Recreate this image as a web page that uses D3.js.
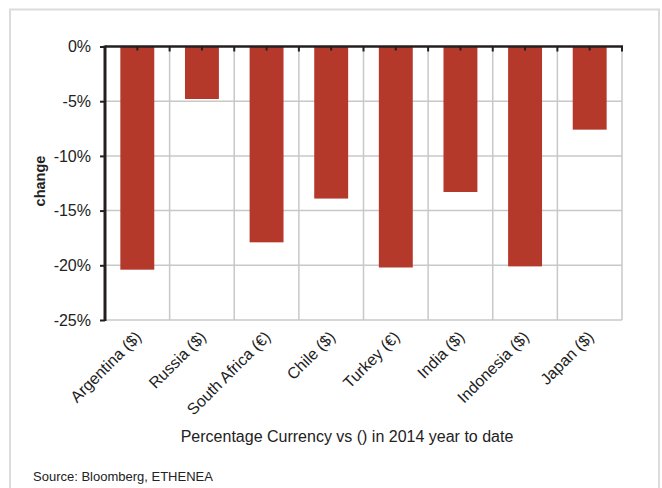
<!DOCTYPE html>
<html>
<head>
<meta charset="utf-8">
<script src="https://cdn.jsdelivr.net/npm/d3@7"></script>
<style>
  html, body { margin: 0; padding: 0; background: #fff; }
  svg { display: block; font-family: "Liberation Sans", Arial, sans-serif; }
</style>
</head>
<body>
<svg id="chart" width="662" height="488"></svg>
<script>
// Currency moves in 2014 year to date
const categories = ["Argentina ($)", "Russia ($)", "South Africa (€)", "Chile ($)", "Turkey (€)", "India ($)", "Indonesia ($)", "Japan ($)"];
const changes = [-20.4, -4.8, -17.9, -13.9, -20.2, -13.3, -20.1, -7.6];
const yTicks = [0, -5, -10, -15, -20, -25];

const svg = d3.select("#chart");
const margin = { left: 105, right: 40, top: 46.5, bottom: 168 };
const W = 662, H = 488;

// panel frame
svg.append("path")
  .attr("d", "M10,488 V9.5 H659 V488")
  .attr("fill", "none")
  .attr("stroke", "#dcdcdc")
  .attr("stroke-width", 2);

const x = d3.scaleBand()
  .domain(categories)
  .range([margin.left, W - margin.right])
  .paddingInner(0.475)
  .paddingOuter(0.2375);

const y = d3.scaleLinear()
  .domain([0, -25])
  .range([margin.top, H - margin.bottom]);

const x0 = margin.left, x1 = W - margin.right;
const step = x.step();
const bounds = d3.range(categories.length + 1).map(i => x0 + i * step);

// grid
const grid = svg.append("g").attr("stroke", "#c8c8c8").attr("stroke-width", 1.5);
grid.selectAll("line.h").data(yTicks.filter(d => d !== 0)).join("line")
  .attr("x1", x0).attr("x2", x1)
  .attr("y1", d => y(d)).attr("y2", d => y(d));
grid.selectAll("line.v").data(bounds.slice(1)).join("line")
  .attr("x1", d => d).attr("x2", d => d)
  .attr("y1", y(0)).attr("y2", y(-25));

// bars
svg.append("g").selectAll("rect").data(categories).join("rect")
  .attr("x", d => x(d))
  .attr("width", x.bandwidth())
  .attr("y", y(0))
  .attr("height", (d, i) => y(changes[i]) - y(0))
  .attr("fill", "#b5392a");

// top (category) axis line along zero
const axisColor = "#231f20";
svg.append("line")
  .attr("x1", x0).attr("x2", x1 + 1)
  .attr("y1", y(0)).attr("y2", y(0))
  .attr("stroke", axisColor).attr("stroke-width", 2.5);
svg.append("g").selectAll("line").data(bounds.slice(1)).join("line")
  .attr("x1", d => d).attr("x2", d => d)
  .attr("y1", y(0)).attr("y2", y(0) + 5)
  .attr("stroke", axisColor).attr("stroke-width", 2);
svg.append("g").selectAll("line").data(categories).join("line")
  .attr("x1", d => x(d) + x.bandwidth() / 2).attr("x2", d => x(d) + x.bandwidth() / 2)
  .attr("y1", y(0)).attr("y2", y(0) + 4)
  .attr("stroke", axisColor).attr("stroke-width", 2);

// y axis
const yAxis = d3.axisLeft(y)
  .tickValues(yTicks)
  .tickFormat(d => d + "%")
  .tickSize(5)
  .tickPadding(9);
const ya = svg.append("g").attr("transform", `translate(${x0},0)`).call(yAxis);
ya.select(".domain").attr("stroke", axisColor).attr("stroke-width", 3)
  .attr("d", `M0,${y(0) - 1}V${y(-25) + 1}`);
ya.selectAll(".tick line").attr("stroke", axisColor).attr("stroke-width", 2);
ya.selectAll(".tick text")
  .attr("font-size", 16)
  .attr("fill", "#222")
  .attr("font-family", "Liberation Sans, Arial, sans-serif");

// category labels, rotated
svg.append("g").selectAll("text").data(categories).join("text")
  .attr("transform", d => `translate(${x(d) + x.bandwidth() / 2 + 5},${y(-25) + 18}) rotate(-45)`)
  .attr("text-anchor", "end")
  .attr("font-size", 16)
  .attr("fill", "#222")
  .text(d => d);

// axis titles
svg.append("text")
  .attr("transform", "translate(44.5,181) rotate(-90)")
  .attr("text-anchor", "middle")
  .attr("font-size", 14.5)
  .attr("font-weight", "bold")
  .attr("fill", "#222")
  .text("change");

svg.append("text")
  .attr("x", 347)
  .attr("y", 442)
  .attr("text-anchor", "middle")
  .attr("font-size", 16)
  .attr("fill", "#222")
  .text("Percentage Currency vs () in 2014 year to date");

svg.append("text")
  .attr("x", 33)
  .attr("y", 481)
  .attr("font-size", 13)
  .attr("fill", "#222")
  .text("Source: Bloomberg, ETHENEA");
</script>
</body>
</html>
